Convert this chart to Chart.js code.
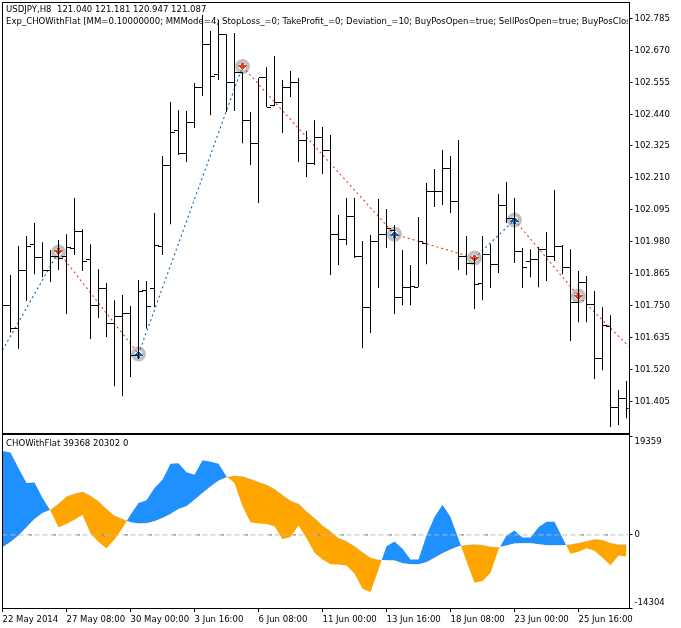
<!DOCTYPE html>
<html>
<head>
<meta charset="utf-8">
<title>USDJPY,H8</title>
<script src="https://cdn.jsdelivr.net/npm/chart.js"></script>
<style>
  body { margin: 0; background: #fff; width: 681px; height: 628px; overflow: hidden; position: relative; }
  canvas { position: absolute; left: 0; }
  #priceCanvas { top: 0; }
  #chaikinCanvas { top: 433px; }
  .frame { position: absolute; left: 2px; width: 626px; border: 1px solid #000; pointer-events: none; }
  .caption { position: absolute; left: 6px; width: 622px; overflow: hidden; white-space: nowrap; font: 9.5px "DejaVu Sans Condensed", "DejaVu Sans", sans-serif; line-height: 12px; color: #000; }
</style>
</head>
<body>
<canvas id="priceCanvas" width="681" height="433"></canvas>
<canvas id="chaikinCanvas" width="681" height="195"></canvas>
<div class="frame" style="top:2px;height:430px"></div>
<div class="frame" style="top:434px;height:173px"></div>
<div class="caption" style="top:3px">USDJPY,H8&nbsp;&nbsp;121.040 121.181 120.947 121.087</div>
<div class="caption" style="top:15px">Exp_CHOWithFlat [MM=0.10000000; MMMode=4; StopLoss_=0; TakeProfit_=0; Deviation_=10; BuyPosOpen=true; SellPosOpen=true; BuyPosClosed=true; SellPosClosed=true]</div>
<div class="caption" style="top:437px">CHOWithFlat 39368 20302 0</div>
<script>
// H8 bars, one entry per bar
const opens = [101.715,101.750,101.667,101.877,101.970,101.923,101.877,101.927,101.925,101.957,
  102.018,101.917,101.750,101.812,101.686,101.711,101.722,101.570,101.804,101.812,
  101.963,102.255,102.382,102.299,102.411,102.537,102.692,102.584,102.728,102.555,
  102.591,102.418,102.335,102.573,102.472,102.483,102.534,102.552,102.343,102.263,
  102.354,102.307,102.007,101.989,102.070,101.928,101.744,101.979,102.007,102.022,
  101.780,101.816,101.816,101.975,102.162,102.162,102.245,102.126,101.928,101.903,
  101.831,101.935,101.896,102.112,102.065,101.943,101.910,101.914,101.953,101.925,
  101.964,101.888,101.759,101.834,101.755,101.560,101.676,101.384,101.413];
const highs = [101.835,101.860,101.964,102.000,102.047,101.978,101.950,101.986,102.007,102.137,
  102.025,101.971,101.881,101.831,101.769,101.788,101.748,101.842,101.838,102.083,
  102.289,102.483,102.454,102.451,102.552,102.797,102.739,102.779,102.728,102.732,
  102.591,102.447,102.570,102.609,102.649,102.563,102.595,102.570,102.379,102.418,
  102.393,102.364,102.076,102.137,102.137,101.982,102.004,102.134,102.098,102.040,
  101.950,101.896,102.069,102.191,102.242,102.310,102.289,102.346,102.000,101.921,
  102.000,101.971,102.152,102.195,102.137,101.957,101.953,101.961,102.015,102.166,
  101.968,101.953,101.874,101.856,101.802,101.744,101.715,101.445,101.478];
const lows = [101.669,101.653,101.594,101.766,101.863,101.852,101.835,101.878,101.719,101.932,
  101.874,101.629,101.705,101.636,101.459,101.423,101.492,101.557,101.667,101.744,
  101.932,102.043,102.292,102.267,102.390,102.505,102.436,102.563,102.447,102.451,
  102.335,102.256,102.119,102.465,102.469,102.372,102.501,102.267,102.213,102.256,
  102.224,101.860,101.896,101.968,101.921,101.596,101.651,101.813,101.957,101.719,
  101.751,101.751,101.816,101.899,102.105,102.112,102.083,101.878,101.860,101.737,
  101.769,101.813,101.867,102.047,101.903,101.813,101.852,101.816,101.838,101.910,
  101.863,101.622,101.690,101.690,101.485,101.517,101.312,101.319,101.344];
const closes = [101.750,101.667,101.877,101.963,101.923,101.877,101.927,101.920,101.958,102.015,
  101.909,101.750,101.812,101.686,101.711,101.722,101.570,101.801,101.747,101.967,
  102.255,102.375,102.296,102.411,102.534,102.692,102.577,102.728,102.555,102.591,
  102.418,102.335,102.570,102.465,102.483,102.534,102.552,102.343,102.263,102.354,
  102.307,102.007,101.989,102.070,101.928,101.744,101.979,102.007,102.029,101.780,
  101.816,101.820,101.979,102.162,102.162,102.245,102.126,101.928,101.903,101.824,
  101.935,101.896,102.112,102.065,101.943,101.888,101.914,101.953,101.925,101.964,
  101.888,101.759,101.834,101.755,101.560,101.679,101.384,101.413,101.377];

// zigzag through the trade signals (bar index, price); last point is past the right edge
const signalBars = [0, 7, 17, 30, 49, 59, 64, 72, 79];
const signalPrices = [101.589, 101.943, 101.575, 102.611, 102.007, 101.921, 102.058, 101.784, 101.582];
const buyBars = [17, 49, 64];
const buyPrices = [101.575, 102.007, 102.058];
const sellBars = [7, 30, 59, 72];
const sellPrices = [101.943, 102.611, 101.921, 101.784];

// the two indicator lines, the cloud is filled between them
const fastLine = [16445,16120,13065,10140,10270,7215,4745,1495,2145,2990,
  3965,260,-1365,-2600,-910,1365,3965,6240,6760,9165,
  10790,13910,14040,12285,11765,14625,14300,13910,11440,10140,
  5590,2470,2210,2145,1690,-845,-390,1820,-585,-3510,
  -4810,-5720,-5785,-5980,-7540,-10530,-11180,-6760,-2210,-1300,
  -2730,-4810,-4810,-130,3510,5915,3510,-780,-5135,-9360,
  -9035,-7410,-2860,-130,845,-520,-520,1495,2600,2600,
  -585,-3705,-3315,-2600,-3120,-4485,-5915,-4030,-4225];
const slowLine = [-2405,-1365,-130,1495,3120,4290,4940,6110,7540,8060,
  8450,7670,6565,5070,3770,3120,2470,2210,2275,2665,
  3315,4095,5070,5590,6890,8190,9490,10595,11310,11570,
  11440,10920,10335,9815,8970,7800,6695,6110,4615,3315,
  1820,715,-585,-1235,-2210,-3380,-4485,-4875,-4940,-5005,
  -5525,-5720,-5720,-5330,-4485,-3575,-2860,-2210,-1950,-1885,
  -1950,-2340,-2405,-2080,-1690,-1625,-1625,-1820,-2015,-2015,
  -2015,-1885,-1560,-1235,-845,-975,-1560,-1885,-1885];

const priceTicks = [101.405,101.520,101.635,101.750,101.865,101.980,102.095,102.210,102.325,102.440,102.555,102.670,102.785];
const chaikinTicks = [-14304, 0, 19359];
const timeTickBars = [0, 8, 16, 24, 32, 40, 48, 56, 64, 72];
const timeTickLabels = ['22 May 2014','27 May 08:00','30 May 00:00','3 Jun 16:00','6 Jun 08:00','11 Jun 00:00','13 Jun 16:00','18 Jun 08:00','23 Jun 00:00','25 Jun 16:00'];

const axisFont = { family: '"DejaVu Sans Condensed", "DejaVu Sans", sans-serif', size: 9.5 };
const barIndex = opens.map((v, i) => i);
const pairs = (xs, ys) => xs.map((x, i) => ({ x: x, y: ys[i] }));

// small sprites used as point styles
function sprite(w, h, draw) {
  const c = document.createElement('canvas');
  c.width = w;
  c.height = h;
  draw(c.getContext('2d'));
  return c;
}
// arrows are built row by row so they stay hard edged
function arrowSprite(color, rowWidths) {
  return sprite(9, rowWidths.length, g => {
    g.fillStyle = color;
    rowWidths.forEach((w, row) => g.fillRect((9 - w) / 2, row, w, 1));
  });
}
const openTick = sprite(9, 1, g => { g.fillRect(0, 0, 4, 1); });
const closeTick = sprite(9, 1, g => { g.fillRect(5, 0, 4, 1); });
const upArrow = arrowSprite('#0a62ad', [1, 3, 5, 7, 9, 3, 3]);
const downArrow = arrowSprite('#e2401c', [3, 3, 9, 7, 5, 3, 1]);

const crispSprites = {
  id: 'crispSprites',
  beforeDraw(chart) { chart.ctx.imageSmoothingEnabled = false; }
};

// keep the plot areas where they are whatever the size of the tick labels
function fixedWidth(scale) {
  scale.width = 52.5;
  scale.paddingTop = 0;
  scale.paddingBottom = 0;
}
function fixedHeight(scale) {
  scale.height = 20;
  scale.paddingLeft = 0;
  scale.paddingRight = 0;
}

new Chart(document.getElementById('priceCanvas'), {
  type: 'scatter',
  plugins: [crispSprites],
  data: {
    datasets: [
      { type: 'scatter', order: 6, data: pairs(signalBars.slice(1, 8), signalPrices.slice(1, 8)), pointStyle: 'circle', pointRadius: 5.5, pointBorderWidth: 4, pointBorderColor: '#c0c0c0', pointBackgroundColor: 'transparent' },
      { type: 'line', order: 5, data: pairs(signalBars, signalPrices), pointRadius: 0, borderWidth: 1.1, borderDash: [2, 3], tension: 0,
        segment: { borderColor: ctx => ctx.p1.parsed.y > ctx.p0.parsed.y ? '#0a62ad' : '#e2401c' } },
      { type: 'scatter', order: 4, data: pairs(buyBars, buyPrices), pointStyle: upArrow, pointRadius: 4 },
      { type: 'scatter', order: 4, data: pairs(sellBars, sellPrices), pointStyle: downArrow, pointRadius: 4 },
      { type: 'bar', order: 3, data: barIndex.map(i => ({ x: i, y: [lows[i], highs[i]] })), backgroundColor: '#000', barThickness: 1, inflateAmount: 0, grouped: false },
      { type: 'scatter', order: 2, data: pairs(barIndex, opens), pointStyle: openTick, pointRadius: 4 },
      { type: 'scatter', order: 2, data: pairs(barIndex, closes), pointStyle: closeTick, pointRadius: 4 }
    ]
  },
  options: {
    responsive: false,
    animation: false,
    devicePixelRatio: 1,
    events: [],
    layout: { autoPadding: false, padding: { left: 2.5, top: 2.5, right: 0, bottom: 1 } },
    plugins: { legend: { display: false }, tooltip: { enabled: false }, title: { display: false } },
    scales: {
      x: { type: 'linear', display: false, offset: false, min: 0, max: 78.25, grid: { display: false } },
      y: {
        position: 'right',
        min: 101.294,
        max: 102.842,
        afterFit: fixedWidth,
        afterBuildTicks(scale) { scale.ticks = priceTicks.map(v => ({ value: v })); },
        border: { display: false },
        grid: { drawOnChartArea: false, drawTicks: true, tickLength: 4, color: '#000' },
        ticks: { color: '#000', font: axisFont, padding: 2, autoSkip: false, callback: v => v.toFixed(3) }
      }
    }
  }
});

new Chart(document.getElementById('chaikinCanvas'), {
  type: 'line',
  data: {
    datasets: [
      { data: pairs(barIndex, fastLine), pointRadius: 0, borderWidth: 0, tension: 0, order: 3,
        fill: { target: 1, above: '#1e90ff', below: '#ffa500' } },
      { data: pairs(barIndex, slowLine), pointRadius: 0, borderWidth: 0, tension: 0, order: 3, fill: false },
      { data: [{ x: 0, y: 0 }, { x: 79, y: 0 }], pointRadius: 0, borderWidth: 1, borderColor: '#bdbdbd', borderDash: [5, 3], order: 2 },
      { data: [{ x: 0, y: 0 }, { x: 79, y: 0 }], pointRadius: 0, borderWidth: 1, borderColor: '#808080', borderDash: [3, 21], borderDashOffset: -2.5, order: 1 }
    ]
  },
  options: {
    responsive: false,
    animation: false,
    devicePixelRatio: 1,
    events: [],
    layout: { autoPadding: false, padding: { left: 2.5, top: 3, right: 0, bottom: 0 } },
    plugins: { legend: { display: false }, tooltip: { enabled: false } },
    scales: {
      x: {
        type: 'linear',
        offset: false,
        min: 0,
        max: 78.25,
        afterFit: fixedHeight,
        afterBuildTicks(scale) { scale.ticks = timeTickBars.map(v => ({ value: v })); },
        border: { display: false },
        grid: { drawOnChartArea: false, drawTicks: true, tickLength: 4, color: '#000' },
        ticks: {
          color: '#000', font: axisFont, padding: 2, align: 'start', autoSkip: false, maxRotation: 0,
          callback: v => timeTickLabels[timeTickBars.indexOf(v)]
        }
      },
      y: {
        position: 'right',
        min: -14304,
        max: 19359,
        afterFit: fixedWidth,
        afterBuildTicks(scale) { scale.ticks = chaikinTicks.map(v => ({ value: v })); },
        border: { display: false },
        grid: { drawOnChartArea: false, drawTicks: true, tickLength: 4, color: '#000' },
        ticks: {
          color: '#000', font: axisFont, padding: 2, autoSkip: false,
          // top and bottom labels are pushed inside the panel
          callback: v => v === 19359 ? ['', String(v)] : v === -14304 ? [String(v), ''] : String(v)
        }
      }
    }
  }
});
</script>
</body>
</html>
